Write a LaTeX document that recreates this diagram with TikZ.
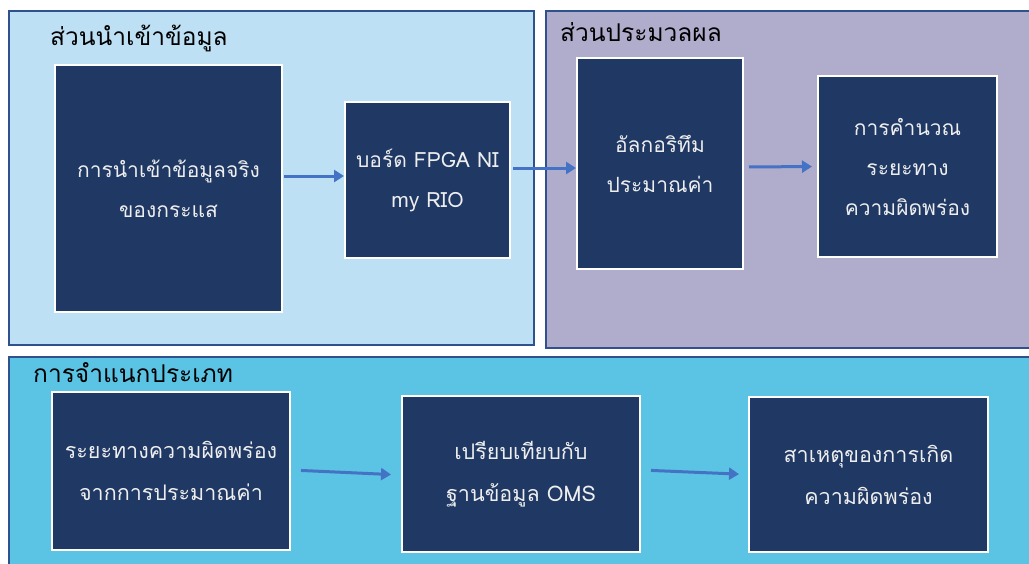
\documentclass[tikz,border=0pt]{standalone}
\usepackage{fontspec}
\setmainfont{Liberation Sans}
\newfontfamily\thaifont[Script=Thai]{Loma}
\usetikzlibrary{arrows.meta}
\definecolor{pLight}{HTML}{BDE0F4}
\definecolor{pPurple}{HTML}{B0ACCC}
\definecolor{pCyan}{HTML}{5BC4E4}
\definecolor{boxFill}{HTML}{1F3864}
\definecolor{panelLine}{HTML}{2F528F}
\definecolor{arrowCol}{HTML}{4472C4}
\definecolor{boxText}{HTML}{EEEEEE}
\tikzset{
  panel/.style={draw=panelLine, line width=2pt, anchor=north west, inner sep=0pt},
  title/.style={anchor=west, text=black, font=\thaifont\fontsize{24.5}{28}\selectfont, inner sep=0pt},
  darkbox/.style={draw=white, line width=2pt, fill=boxFill, text=boxText, align=center,
     font=\thaifont\fontsize{21}{40}\selectfont, inner sep=0pt},
  lowbox/.style={darkbox, font=\thaifont\fontsize{21.5}{42}\selectfont},
  flow/.style={draw=arrowCol, line width=3pt, -{Triangle[length=10pt,width=12pt]}}
}
\begin{document}
\begin{tikzpicture}[x=1pt,y=-1pt]
\useasboundingbox (0,0) rectangle (1029,563);
\fill[white] (0,0) rectangle (1029,563);
\begin{scope}
\clip (0,0) rectangle (1029,563);
% panels
\node[panel, fill=pLight, minimum width=525pt, minimum height=334pt] (p1) at (8,10) {};
\node[panel, fill=pPurple, minimum width=495pt, minimum height=337pt] (p2) at (545,10) {};
\node[panel, fill=pCyan, minimum width=1030pt, minimum height=220pt] (p3) at (8,356) {};
\end{scope}
% titles
\node[title] (t1) at (50,38) {ส่วนนำเข้าข้อมูล};
\node[title] (t2) at (560,32) {ส่วนประมวลผล};
\node[title] (t3) at (33,373) {การจำแนกประเภท};
% boxes
\node[darkbox, minimum width=227pt, minimum height=247pt] (b1) at (168.5,188.5) {การนำเข้าข้อมูลจริง\\ของกระแส};
\node[darkbox, minimum width=165pt, minimum height=156pt] (b2) at (427.5,180) {บอร์ด FPGA NI\\my RIO};
\node[darkbox, minimum width=166pt, minimum height=211pt] (b3) at (660,163.5) {อัลกอริทึม\\ประมาณค่า};
\node[darkbox, minimum width=179pt, minimum height=181pt] (b4) at (907.5,166.5) {การคำนวณ\\ระยะทาง\\ความผิดพร่อง};
\node[lowbox, minimum width=238pt, minimum height=158pt] (b5) at (171,471) {ระยะทางความผิดพร่อง\\จากการประมาณค่า};
\node[lowbox, minimum width=238pt, minimum height=156pt] (b6) at (521,474) {เปรียบเทียบกับ\\ฐานข้อมูล OMS};
\node[lowbox, minimum width=239pt, minimum height=155pt] (b7) at (868.5,474.5) {สาเหตุของการเกิด\\ความผิดพร่อง};
% arrows
\draw[flow, shorten <=1pt] ([yshift=12.5pt]b1.east) -- ([yshift=4pt]b2.west);
\draw[flow, shorten <=2pt] ([yshift=12pt]b2.east) -- ([yshift=-4.5pt]b3.west);
\draw[flow, shorten <=5pt, shorten >=5pt] ([yshift=-3.5pt]b3.east) -- (b4.west);
\draw[flow, shorten <=10pt, shorten >=10pt] ([yshift=1pt]b5.east) -- ([yshift=-1pt]b6.west);
\draw[flow, shorten <=10pt, shorten >=9pt] ([yshift=4pt]b6.east) -- (b7.west);
\end{tikzpicture}
\end{document}
